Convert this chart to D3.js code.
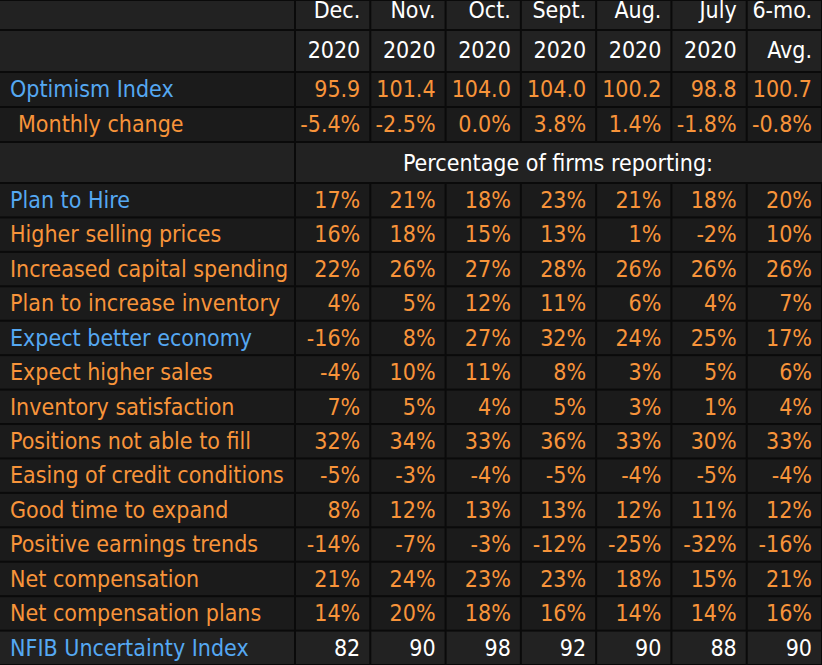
<!DOCTYPE html>
<html><head><meta charset="utf-8">
<script src="https://cdn.jsdelivr.net/npm/d3@7"></script>
<style>html,body{margin:0;padding:0;background:#000;}svg{display:block;}</style>
</head><body>
<script>
const months = ["Dec.", "Nov.", "Oct.", "Sept.", "Aug.", "July", "6-mo."];
const years = ["2020", "2020", "2020", "2020", "2020", "2020", "Avg."];
const optimism = [95.9, 101.4, 104.0, 104.0, 100.2, 98.8, 100.7];
const monthlyChange = [-5.4, -2.5, 0.0, 3.8, 1.4, -1.8, -0.8];
const sectionTitle = "Percentage of firms reporting:";
const indicators = [
  "Plan to Hire", "Higher selling prices", "Increased capital spending",
  "Plan to increase inventory", "Expect better economy", "Expect higher sales",
  "Inventory satisfaction", "Positions not able to fill", "Easing of credit conditions",
  "Good time to expand", "Positive earnings trends", "Net compensation", "Net compensation plans"
];
const indicatorValues = [
  [17, 21, 18, 23, 21, 18, 20],
  [16, 18, 15, 13, 1, -2, 10],
  [22, 26, 27, 28, 26, 26, 26],
  [4, 5, 12, 11, 6, 4, 7],
  [-16, 8, 27, 32, 24, 25, 17],
  [-4, 10, 11, 8, 3, 5, 6],
  [7, 5, 4, 5, 3, 1, 4],
  [32, 34, 33, 36, 33, 30, 33],
  [-5, -3, -4, -5, -4, -5, -4],
  [8, 12, 13, 13, 12, 11, 12],
  [-14, -7, -3, -12, -25, -32, -16],
  [21, 24, 23, 23, 18, 15, 21],
  [14, 20, 18, 16, 14, 14, 16]
];
const blueLabels = ["Optimism Index", "Plan to Hire", "Expect better economy", "NFIB Uncertainty Index"];
const uncertaintyLabel = "NFIB Uncertainty Index";
const uncertainty = [82, 90, 98, 92, 90, 88, 90];

const W = 822, H = 665;
const BLUE = "#55a8f2", ORANGE = "#f8943a", WHITE = "#ffffff";
const HEAD_BG = "#222222", DATA_BG = "#1b1b1b";
const FONT = "'DejaVu Sans Condensed', 'DejaVu Sans', sans-serif";
const FS = 23;

const rows = [];
rows.push({kind: "head", label: "", cells: months, color: WHITE, h: 30, base: 18, bg: HEAD_BG});
rows.push({kind: "head", label: "", cells: years, color: WHITE, h: 42, base: 28, bg: HEAD_BG});
rows.push({kind: "data", label: "Optimism Index", cells: optimism.map(v => v.toFixed(1)), color: ORANGE, h: 35, base: 25, bg: DATA_BG});
rows.push({kind: "data", label: "Monthly change", indent: 8, cells: monthlyChange.map(v => v.toFixed(1) + "%"), color: ORANGE, h: 35, base: 25, bg: DATA_BG});
rows.push({kind: "section", label: "", title: sectionTitle, h: 41, base: 29, bg: HEAD_BG});
indicators.forEach((name, i) => rows.push({kind: "data", label: name, cells: indicatorValues[i].map(v => v + "%"), color: ORANGE, h: 34.43, base: 25, bg: DATA_BG}));
rows.push({kind: "data", label: uncertaintyLabel, cells: uncertainty.map(String), color: WHITE, h: 34.43, base: 25, bg: HEAD_BG});
let yy = 0;
rows.forEach(r => { r.y = yy; yy += r.h; });

const labelW = 296;
const x = d3.scaleBand().domain(d3.range(months.length)).range([labelW, W + 1]).paddingInner(0);

const svg = d3.select("body").append("svg").attr("width", W).attr("height", H)
  .style("background", "#0a0a0a").attr("font-family", FONT);

const g = svg.selectAll("g.row").data(rows).join("g").attr("class", "row")
  .attr("transform", d => `translate(0,${d.y})`);

const GAP = 2;
g.append("rect").attr("x", 0).attr("y", GAP / 2).attr("width", labelW - GAP).attr("height", d => d.h - GAP)
  .attr("fill", d => d.bg);
g.each(function(d) {
  const sel = d3.select(this);
  if (d.kind === "section") {
    sel.append("rect").attr("x", labelW).attr("y", GAP / 2).attr("width", W - labelW).attr("height", d.h - GAP).attr("fill", d.bg);
    sel.append("text").attr("x", (labelW + W) / 2 - 1).attr("y", d.base).attr("text-anchor", "middle")
      .attr("fill", WHITE).attr("font-size", FS).text(d.title);
    return;
  }
  sel.selectAll("rect.cell").data(d.cells).join("rect").attr("class", "cell")
    .attr("x", (c, i) => x(i)).attr("y", GAP / 2).attr("width", x.bandwidth() - GAP).attr("height", d.h - GAP)
    .attr("fill", d.bg);
  sel.selectAll("text.val").data(d.cells).join("text").attr("class", "val")
    .attr("x", (c, i) => x(i) + x.bandwidth() - 11).attr("y", d.base)
    .attr("text-anchor", "end").attr("fill", d.color).attr("font-size", FS).text(c => c);
  if (d.label) {
    sel.append("text").attr("x", 10 + (d.indent || 0)).attr("y", d.base)
      .attr("fill", blueLabels.includes(d.label) ? BLUE : ORANGE).attr("font-size", FS).text(d.label);
  }
});
</script>
</body></html>
